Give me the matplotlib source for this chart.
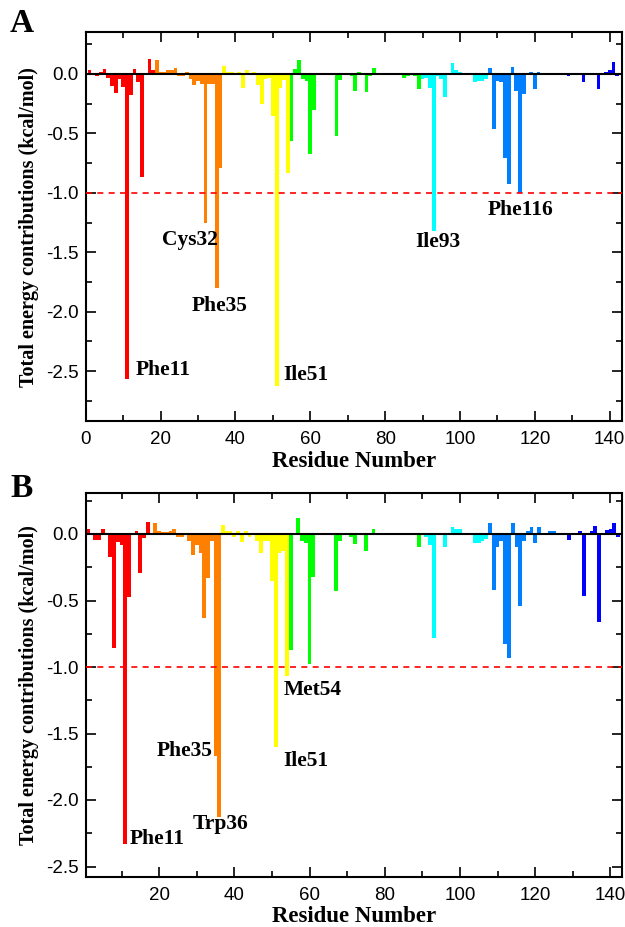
import matplotlib
matplotlib.use('Agg')
import matplotlib.pyplot as plt
import numpy as np
from matplotlib.ticker import MultipleLocator, FormatStrFormatter

plt.rcParams['axes.unicode_minus'] = False

residues = np.arange(1, 144)

energy_A = [
    0.03, 0.01, -0.02, 0.02, 0.04, -0.03, -0.10, -0.16, -0.04, -0.11,
    -2.57, -0.18, 0.04, -0.07, -0.87, -0.01, 0.13, 0.03, 0.12, 0.02,
    0.02, 0.03, 0.03, 0.05, -0.02, -0.02, 0.02, -0.04, -0.09, -0.06,
    -0.08, -1.25, -0.08, -0.08, -1.80, -0.79, 0.07, 0.02, 0.02, 0.00,
    0.02, -0.12, 0.03, 0.01, 0.02, -0.09, -0.25, -0.04, -0.035, -0.35,
    -2.63, -0.12, -0.05, -0.83, -0.56, 0.04, 0.12, -0.04, -0.06, -0.67,
    -0.30, 0.00, 0.01, 0.01, 0.00, 0.00, -0.52, -0.05, 0.00, 0.01,
    -0.02, -0.14, 0.02, 0.00, -0.15, -0.02, 0.05, 0.01, 0.01, 0.01,
    0.00, -0.01, -0.01, 0.00, -0.03, -0.02, 0.01, -0.02, -0.13, -0.045,
    -0.03, -0.12, -1.32, -0.02, -0.045, -0.19, 0.01, 0.09, 0.03, 0.02,
    0.01, 0.00, 0.01, -0.07, -0.06, -0.055, -0.04, 0.05, -0.46, -0.06,
    -0.07, -0.71, -0.93, 0.06, -0.14, -1.00, -0.17, 0.00, 0.02, -0.13,
    0.02, 0.01, 0.01, 0.01, 0.01, -0.01, 0.01, -0.01, -0.02, 0.01,
    0.01, 0.01, -0.07, 0.01, 0.01, 0.00, -0.13, 0.01, 0.02, 0.03,
    0.10, -0.02, 0.00,
]

energy_B = [
    0.035, 0.00, -0.045, -0.045, 0.04, -0.005, -0.17, -0.855, -0.06, -0.08,
    -2.33, -0.47, 0.00, 0.025, -0.29, -0.03, 0.09, 0.00, 0.085, 0.02,
    0.015, 0.015, 0.02, 0.035, -0.02, -0.02, 0.01, -0.05, -0.16, -0.08,
    -0.14, -0.635, -0.33, -0.05, -1.67, -2.13, 0.07, 0.02, 0.02, -0.02,
    0.02, -0.06, 0.02, -0.02, 0.01, -0.05, -0.145, -0.05, -0.05, -0.355,
    -1.60, -0.145, -0.125, -1.07, -0.87, 0.00, 0.12, -0.05, -0.065, -0.98,
    -0.32, 0.00, 0.01, 0.01, 0.01, 0.01, -0.43, -0.05, 0.00, 0.01,
    -0.02, -0.075, 0.01, 0.00, -0.13, 0.00, 0.04, 0.01, 0.01, 0.005,
    0.005, -0.01, -0.01, 0.00, -0.01, -0.01, 0.01, 0.00, -0.095, -0.01,
    -0.02, -0.08, -0.78, -0.01, -0.01, -0.10, 0.01, 0.05, 0.04, 0.04,
    0.01, 0.00, 0.01, -0.07, -0.07, -0.05, -0.04, 0.08, -0.42, -0.10,
    -0.05, -0.83, -0.93, 0.08, -0.095, -0.545, -0.05, 0.02, 0.05, -0.065,
    0.05, 0.01, 0.01, 0.02, 0.02, 0.005, 0.005, 0.005, -0.045, -0.01,
    0.01, 0.02, -0.465, 0.00, 0.02, 0.06, -0.665, 0.01, 0.03, 0.04,
    0.08, -0.02, 0.00,
]

segment_ends = [18, 36, 54, 89, 107, 127, 143]
segment_colors = ['#FF0000', '#FF8000', '#FFFF00', '#00FF00',
                  '#00FFFF', '#0080FF', '#0000FF']

labels_A = [('Phe11', 20.6, -2.49), ('Cys32', 27.7, -1.40), ('Phe35', 35.7, -1.95),
            ('Ile51', 58.9, -2.53), ('Ile93', 94.0, -1.41), ('Phe116', 116.2, -1.145)]
labels_B = [('Phe11', 19.6, -2.29), ('Phe35', 26.7, -1.63), ('Trp36', 36.2, -2.18),
            ('Ile51', 59.1, -1.71), ('Met54', 60.9, -1.17)]

x_ticks = [0, 20, 40, 60, 80, 100, 120, 140]

colors = [segment_colors[np.searchsorted(segment_ends, r)] for r in residues]

W, H = 625, 927
fig = plt.figure(figsize=(W / 100, H / 100), dpi=100)

SERIF = ['Liberation Serif', 'DejaVu Serif']
SANS = ['Liberation Sans', 'DejaVu Sans']


def make_panel(rect, values, xlim, ylim, labels, letter, letter_y, xlabel_y):
    ax = fig.add_axes(rect)
    ax.bar(residues, values, width=1.0, color=colors, linewidth=0, zorder=2)
    ax.axhline(0, color='black', lw=1.5, zorder=3)
    ax.axhline(-1.0, color='#FF0000', lw=1.2, ls=(0, (3.6, 3.2)), zorder=3)
    ax.set_xlim(*xlim)
    ax.set_ylim(*ylim)
    ax.set_xticks([t for t in x_ticks if xlim[0] <= t <= xlim[1]])
    ax.xaxis.set_minor_locator(MultipleLocator(10))
    ax.yaxis.set_major_locator(MultipleLocator(0.5))
    ax.yaxis.set_minor_locator(MultipleLocator(0.25))
    ax.yaxis.set_major_formatter(FormatStrFormatter('%.1f'))
    ax.tick_params(which='both', direction='in', top=True, right=True, width=1.2)
    ax.tick_params(which='major', length=7, labelsize=13.5, pad=5)
    ax.tick_params(axis='x', which='major', pad=7)
    ax.tick_params(which='minor', length=4)
    for lab in ax.get_xticklabels() + ax.get_yticklabels():
        lab.set_family(SANS)
    for s in ax.spines.values():
        s.set_linewidth(1.5)
    for txt, x, y in labels:
        ax.text(x, y, txt, ha='center', va='center', fontsize=15.5,
                fontweight='bold', family=SERIF, zorder=4)
    ax.set_ylabel('Total energy contributions (kcal/mol)', fontsize=14.5,
                  fontweight='bold', family=SERIF, labelpad=5)
    fig.text(354 / W, 1 - xlabel_y / H, 'Residue Number', ha='center', va='center',
             fontsize=16.5, fontweight='bold', family=SERIF)
    fig.text(22 / W, 1 - letter_y / H, letter, ha='center', va='center',
             fontsize=24, fontweight='bold', family=SERIF)
    return ax


# panel A: zero at y=74 px, 118.8 px per unit
yA = (-2.92, 0.35)
topA, botA = 74 - yA[1] * 118.8, 74 - yA[0] * 118.8
# panel B: zero at y=534 px, 133 px per unit
yB = (-2.58, 0.31)
topB, botB = 534 - yB[1] * 133.0, 534 - yB[0] * 133.0

axA = make_panel([85.8 / W, 1 - botA / H, 535.9 / W, (botA - topA) / H], energy_A,
                 (0, 143.2), yA, labels_A, 'A', 24, 461)
axB = make_panel([85.8 / W, 1 - botB / H, 535.9 / W, (botB - topB) / H], energy_B,
                 (0.5, 143.0), yB, labels_B, 'B', 489, 916)

fig.savefig('out.png', dpi=100)
